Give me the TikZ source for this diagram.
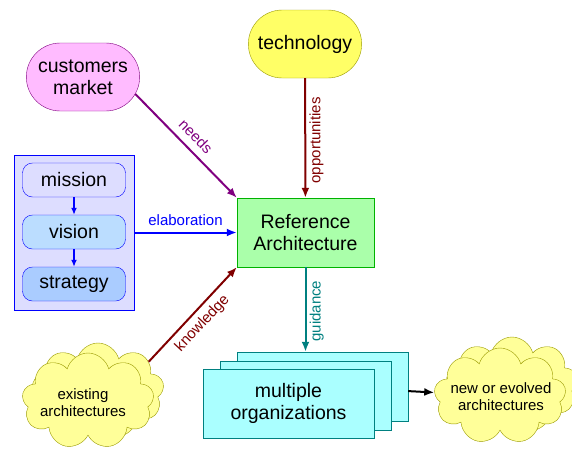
\documentclass[tikz,border=0pt]{standalone}
\usepackage{fontspec}
\setmainfont{Liberation Sans}
\usetikzlibrary{shapes.symbols,shapes.misc,arrows.meta,positioning}
\definecolor{pinkfill}{HTML}{FFBBFF}
\definecolor{yelfill}{HTML}{FFFF66}
\definecolor{cloudfill}{HTML}{FFFF99}
\definecolor{olive}{HTML}{999900}
\definecolor{lavfill}{HTML}{DDDDFF}
\definecolor{visfill}{HTML}{BBDDFF}
\definecolor{strfill}{HTML}{AACCFF}
\definecolor{greenfill}{HTML}{AAFFAA}
\definecolor{cyanfill}{HTML}{AAFFFF}
\definecolor{darkred}{HTML}{800000}
\begin{document}
\begin{tikzpicture}[>={Latex[length=10pt,width=8pt]}, x=1pt, y=-1pt,
  big/.style={font=\fontsize{19.5}{22}\selectfont},
  lab/.style={font=\fontsize{15}{17}\selectfont},
  pill/.style={big, draw, rounded rectangle, minimum width=120pt, minimum height=68pt, align=center},
  inner/.style={big, draw=blue, rounded corners=10pt, minimum width=103pt, minimum height=34pt},
  orgbox/.style={draw=teal, fill=cyanfill, minimum width=171pt, minimum height=69pt},
  puff/.style={cloud, cloud puffs=9, draw=olive, fill=cloudfill, minimum width=132pt, minimum height=96pt},
  arr/.style={line width=2pt, ->}]
\useasboundingbox (0,0) rectangle (572,450);
% sources
\node[pill, draw=violet, fill=pinkfill] (cust) at (83,77) {customers\\market};
\node[pill, draw=olive, fill=yelfill] (tech) at (305,44) {technology};
% mission / vision / strategy
\node[draw=blue, fill=lavfill, minimum width=120pt, minimum height=155pt] (frame) at (74,232.5) {};
\node[inner, fill=lavfill] (mission) at (74,180) {mission};
\node[inner, fill=visfill] (vision) at (74,232) {vision};
\node[inner, fill=strfill] (strategy) at (74,284) {strategy};
\draw[blue, line width=1.4pt, -{Latex[length=7pt,width=6pt]}] (mission) -- (vision);
\draw[blue, line width=1.4pt, -{Latex[length=7pt,width=6pt]}] (vision) -- (strategy);
% centre
\node[big, draw=green!70!black, fill=greenfill, minimum width=137pt, minimum height=69pt, align=center] (ref) at (305.5,232.5) {Reference\\Architecture};
% organizations
\node[orgbox] (back) at (322.5,386.5) {};
\node[orgbox] (mid) at (305.5,395.5) {};
\node[orgbox, big, align=center] (front) at (288.5,403.5) {multiple\\organizations};
% clouds
\node[puff] (existb) at (98,391) {};
\node[puff] (exist) at (88,401) {};
\node[lab, align=center] (existtxt) at (83,403) {existing\\architectures};
\node[puff] (newcb) at (512,385) {};
\node[puff] (newc) at (500,396) {};
\node[lab, align=center] (newctxt) at (501,397) {new or evolved\\architectures};
% arrows
\draw[arr, violet] (cust.-18) -- node[lab, sloped, above=4pt, pos=0.5] {needs} (ref.north west);
\draw[arr, darkred] (tech) -- node[lab, rotate=90, anchor=north, pos=0.52] {opportunities} (ref);
\draw[arr, blue] (frame) -- node[lab, above=3pt] {elaboration} (ref);
\draw[arr, darkred] (existb.30) -- node[lab, sloped, below=2pt, pos=0.5] {knowledge} (ref.south west);
\draw[arr, teal] (ref) -- node[lab, rotate=90, anchor=north, pos=0.52] {guidance} (ref.south |- back.north);
\draw[arr, black] (back) -- (newc);
\end{tikzpicture}
\end{document}
